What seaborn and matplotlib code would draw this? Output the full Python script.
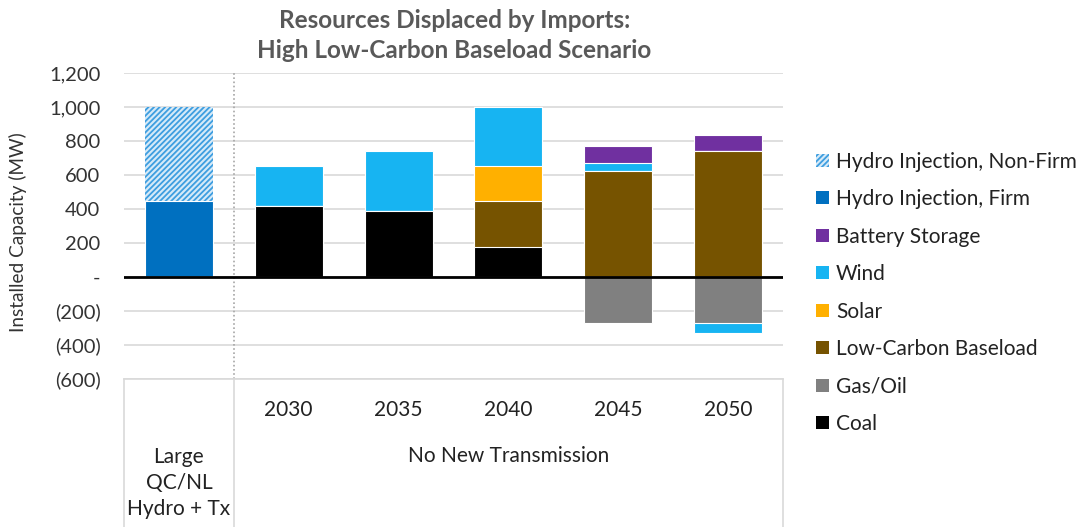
import numpy as np
import pandas as pd
import seaborn as sns
import matplotlib.pyplot as plt
import matplotlib.transforms as mtransforms
from matplotlib.patches import Patch
from matplotlib.ticker import FuncFormatter

# categories and values (MW)
cats = ['Large', '2030', '2035', '2040', '2045', '2050']
hydro_nonfirm = [555, 0, 0, 0, 0, 0]
hydro_firm = [445, 0, 0, 0, 0, 0]
battery = [0, 0, 0, 0, 100, 95]
wind = [0, 230, 350, 350, 45, 0]
solar = [0, 0, 0, 200, 0, 0]
lcb = [0, 0, 0, 275, 625, 740]
coal = [0, 420, 390, 175, 0, 0]
gas_neg = [0, 0, 0, 0, -270, -270]
wind_neg = [0, 0, 0, 0, 0, -60]

colors = {
    'Hydro Injection, Non-Firm': '#3E9EE0',
    'Hydro Injection, Firm': '#0070C0',
    'Battery Storage': '#7030A0',
    'Wind': '#17B4F2',
    'Solar': '#FFB000',
    'Low-Carbon Baseload': '#765300',
    'Gas/Oil': '#808080',
    'Coal': '#000000',
}

plt.rcParams['font.family'] = ['Lato', 'DejaVu Sans']
plt.rcParams['hatch.linewidth'] = 1.3

fig = plt.figure(figsize=(10.82, 5.27), dpi=100)
ax = fig.add_axes([0.1146, 0.2808, 0.609, 0.5807])

# positive stack, bottom to top
pos_layers = [('Coal', coal), ('Low-Carbon Baseload', lcb), ('Solar', solar),
              ('Wind', wind), ('Battery Storage', battery),
              ('Hydro Injection, Firm', hydro_firm),
              ('Hydro Injection, Non-Firm', hydro_nonfirm)]
cum = np.cumsum([np.array(v) for _, v in pos_layers], axis=0)
# draw from the top down so lower layers cover upper cumulative bars
for i in range(len(pos_layers) - 1, -1, -1):
    name = pos_layers[i][0]
    df = pd.DataFrame({'cat': cats, 'val': cum[i]})
    if name == 'Hydro Injection, Non-Firm':
        sns.barplot(data=df, x='cat', y='val', order=cats, color='#D6EAF8',
                    saturation=1, width=0.62, errorbar=None, ax=ax,
                    edgecolor=colors[name], linewidth=0, hatch='//////')
    else:
        sns.barplot(data=df, x='cat', y='val', order=cats, color=colors[name],
                    saturation=1, width=0.62, errorbar=None, ax=ax,
                    edgecolor='white', linewidth=0.8)

neg_layers = [('Gas/Oil', gas_neg), ('Wind', wind_neg)]
ncum = np.cumsum([np.array(v) for _, v in neg_layers], axis=0)
for i in range(len(neg_layers) - 1, -1, -1):
    name = neg_layers[i][0]
    df = pd.DataFrame({'cat': cats, 'val': ncum[i]})
    sns.barplot(data=df, x='cat', y='val', order=cats, color=colors[name],
                saturation=1, width=0.62, errorbar=None, ax=ax,
                edgecolor='white', linewidth=0.8)

ax.set_xlim(-0.5, 5.5)
ax.set_ylim(-600, 1200)
ax.set_yticks(np.arange(-600, 1201, 200))


def fmt(v, pos):
    if v == 0:
        return '-'
    if v < 0:
        return '({:,.0f})'.format(-v)
    return '{:,.0f}'.format(v)


ax.yaxis.set_major_formatter(FuncFormatter(fmt))
ax.tick_params(axis='y', length=0, labelsize=14.5, labelcolor='#333333', pad=17)
ax.tick_params(axis='x', length=0, labelbottom=False)
ax.set_xlabel('')
ax.set_ylabel('')
ax.grid(axis='y', color='#D9D9D9', linewidth=1.2)
ax.set_axisbelow(True)
for s in ['left', 'right', 'top']:
    ax.spines[s].set_visible(False)
ax.spines['bottom'].set_color('#D9D9D9')
ax.spines['bottom'].set_linewidth(1.2)
ax.axhline(0, color='black', linewidth=2, zorder=5)

# separator between categories and table lines below the axes
trans = mtransforms.blended_transform_factory(ax.transData, ax.transAxes)
ax.plot([0.5, 0.5], [0, 1], transform=trans, color='#A6A6A6', linestyle=(0, (1, 1.5)),
        linewidth=1.2, clip_on=False)
for xv in [-0.5, 0.5, 5.5]:
    ax.plot([xv, xv], [0, -0.52], transform=trans, color='#D9D9D9', linewidth=1.2,
            clip_on=False)

for i, c in enumerate(cats[1:], start=1):
    ax.text(i, -0.1, c, transform=trans, ha='center', va='center', fontsize=15,
            color='#222222')
ax.text(3, -0.25, 'No New Transmission', transform=trans, ha='center', va='center',
        fontsize=15, color='#222222')
ax.text(0, -0.34, 'Large\nQC/NL\nHydro + Tx', transform=trans, ha='center',
        va='center', fontsize=15, color='#222222', linespacing=1.35)

fig.text(0.017, 0.56, 'Installed Capacity (MW)', rotation=90, ha='center',
         va='center', fontsize=13.7, color='#333333')
fig.text(0.42, 0.982, 'Resources Displaced by Imports:\nHigh Low-Carbon Baseload Scenario',
         ha='center', va='top', fontsize=17.5, fontweight='bold', color='#595959',
         linespacing=1.35)

legend_order = ['Hydro Injection, Non-Firm', 'Hydro Injection, Firm', 'Battery Storage',
                'Wind', 'Solar', 'Low-Carbon Baseload', 'Gas/Oil', 'Coal']
handles = []
for name in legend_order:
    if name == 'Hydro Injection, Non-Firm':
        handles.append(Patch(facecolor='#D6EAF8', edgecolor=colors[name], hatch='//////',
                             linewidth=0, label=name))
    else:
        handles.append(Patch(facecolor=colors[name], edgecolor='none', label=name))
fig.legend(handles=handles, loc='upper left', bbox_to_anchor=(0.737, 0.748),
           frameon=False, fontsize=15, handlelength=0.6, handleheight=0.6,
           handletextpad=0.35, labelspacing=0.84, labelcolor='#222222')

fig.savefig('out.png', dpi=100)
